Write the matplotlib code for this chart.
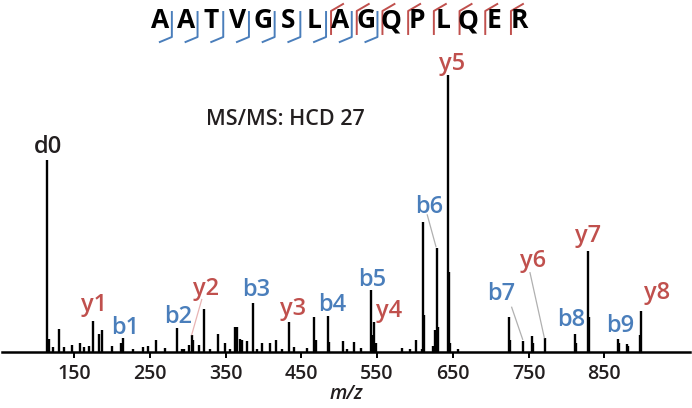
import matplotlib
matplotlib.use("Agg")
import matplotlib.pyplot as plt

plt.rcParams['font.family'] = ['Open Sans', 'DejaVu Sans']

# ---- data ----
mz = [114.8, 117.0, 122.7, 130.2, 136.8, 147.0, 157.9, 163.2, 169.8, 175.5,
      183.4, 186.6, 200.6, 211.6, 214.3, 228.3, 241.5, 248.1, 257.6, 270.1,
      285.6, 292.2, 295.2, 301.8, 305.8, 307.5, 315.4, 322.0, 329.5, 340.5,
      349.3, 355.9, 362.5, 365.6, 369.1, 372.2, 378.0, 386.3, 391.2, 397.8,
      408.7, 416.2, 424.6, 433.8, 440.8, 457.2, 467.2, 469.4, 484.9, 487.0,
      505.5, 510.0, 520.0, 528.8, 542.0, 543.7, 546.4, 548.6, 583.3, 593.5,
      601.4, 609.0, 611.1, 612.4, 624.3, 626.5, 628.8, 630.1, 644.1, 645.4,
      646.3, 657.3, 724.2, 725.5, 742.7, 754.1, 755.9, 771.3, 810.9, 812.6,
      828.1, 829.4, 868.1, 869.4, 879.5, 881.7, 897.1, 898.4]
intensity = [69.1, 4.7, 1.5, 8.2, 1.5, 2.2, 2.9, 1.5, 2.0, 11.1,
             6.5, 7.7, 2.0, 3.0, 4.8, 1.0, 1.5, 2.0, 4.0, 1.2,
             8.4, 1.0, 1.0, 2.3, 6.0, 4.0, 2.3, 15.3, 1.0, 6.5,
             2.9, 1.0, 9.0, 8.9, 4.7, 4.3, 3.8, 17.6, 1.0, 3.2,
             3.0, 4.1, 1.0, 10.8, 1.7, 1.2, 12.4, 4.0, 12.7, 3.5,
             3.8, 1.0, 3.5, 1.2, 22.4, 6.0, 10.8, 3.0, 1.4, 1.0,
             4.3, 1.0, 46.8, 13.2, 2.0, 7.8, 37.5, 9.0, 100.0, 28.9,
             3.0, 1.0, 12.6, 4.0, 3.9, 5.7, 3.0, 4.8, 6.4, 3.0,
             36.3, 12.4, 4.6, 3.0, 2.8, 2.0, 6.0, 14.6]

ion_labels = ['d0', 'y1', 'b1', 'b2', 'y2', 'b3', 'y3', 'b4', 'b5', 'y4',
              'b6', 'y5', 'b7', 'y6', 'y7', 'b8', 'b9', 'y8']
label_mz = [115.2, 176.4, 217.3, 287.3, 324.2, 390.2, 438.7, 490.9, 543.0, 565.8,
            618.6, 648.5, 714.5, 756.3, 828.1, 806.0, 870.7, 919.1]
label_int = [74.1, 16.8, 8.5, 12.5, 22.6, 22.2, 15.3, 16.8, 25.9, 14.6,
             52.3, 103.8, 20.7, 32.7, 41.8, 11.4, 9.3, 21.0]

# leader lines: (label, mz_start, int_start, mz_end, int_end)
leader_ion = ['y2', 'b6', 'b7', 'y6']
leader_mz0 = [318.6, 616.3, 727.7, 751.9]
leader_i0 = [18.8, 49.4, 16.0, 28.5]
leader_mz1 = [305.4, 627.8, 742.2, 770.8]
leader_i1 = [6.1, 37.9, 4.4, 5.0]

xticks = [150, 250, 350, 450, 550, 650, 750, 850]

sequence = "AATVGSLAGQPLQER"
b_sites = [1, 2, 3, 4, 5, 6, 7, 8, 9]     # cleavage after residue i
y_sites = [7, 8, 9, 10, 11, 12, 13, 14]

BLUE = '#4a7ebb'
RED = '#c0504d'
DARK = '#231f20'

W, H = 692, 408
fig = plt.figure(figsize=(W / 100, H / 100), dpi=100)

x0_px, x1_px = 2, 690
base_px, top_px = 351.5, 75
ax = fig.add_axes([x0_px / W, (H - base_px) / H, (x1_px - x0_px) / W, (base_px - top_px) / H])

px_per = 0.7576
mz_left = 150 - (74 - x0_px) / px_per
mz_right = 150 + (x1_px - 74) / px_per
ax.set_xlim(mz_left, mz_right)
ax.set_ylim(0, 100)

ax.vlines(mz, 0, intensity, color='black', linewidth=1.7)

for s in ['left', 'right', 'top']:
    ax.spines[s].set_visible(False)
ax.spines['bottom'].set_linewidth(1.8)
ax.spines['bottom'].set_color('black')
ax.set_yticks([])
ax.set_xticks(xticks)
ax.set_xticklabels([str(t) for t in xticks], fontsize=14, color=DARK,
                   fontweight='semibold')
ax.tick_params(axis='x', direction='out', length=4, width=1.4, pad=5)
ax.set_xlabel('m/z', fontsize=14, style='italic', color=DARK, labelpad=0,
              fontweight='semibold')

for lab, m, i in zip(ion_labels, label_mz, label_int):
    c = BLUE if lab.startswith('b') else (RED if lab.startswith('y') else DARK)
    ax.text(m, i, lab, color=c, fontsize=17, ha='center', va='center',
            fontweight='semibold', clip_on=False)

for lab, m0, i0, m1, i1 in zip(leader_ion, leader_mz0, leader_i0, leader_mz1, leader_i1):
    c = '#e8b4b4' if lab == 'y2' else '#b0b0b0'
    ax.plot([m0, m1], [i0, i1], color=c, linewidth=0.9, clip_on=False)

fig.text(285 / W, 1 - 119 / H, 'MS/MS: HCD 27', fontsize=15.5, ha='center', va='center',
         color=DARK, fontweight='semibold')

# peptide sequence with fragment markers (pixel coordinates of the figure)
seq_x0, seq_dx, seq_y = 160, 25.7, 21
for k, aa in enumerate(sequence):
    fig.text((seq_x0 + k * seq_dx) / W, 1 - seq_y / H, aa, fontsize=19,
             fontweight='bold', ha='center', va='center', color='black')

for s in b_sites:
    xb = seq_x0 + (s - 0.5) * seq_dx - 1
    xs = [xb, xb, xb - 12]
    ys = [12, 37, 42]
    fig.add_artist(plt.Line2D([v / W for v in xs], [1 - v / H for v in ys],
                              color=BLUE, linewidth=1.4))
for s in y_sites:
    xr = seq_x0 + (s - 0.5) * seq_dx + 4
    xs = [xr, xr, xr + 12]
    ys = [34, 11, 4]
    fig.add_artist(plt.Line2D([v / W for v in xs], [1 - v / H for v in ys],
                              color=RED, linewidth=1.4))

fig.savefig('out.png', dpi=100)
